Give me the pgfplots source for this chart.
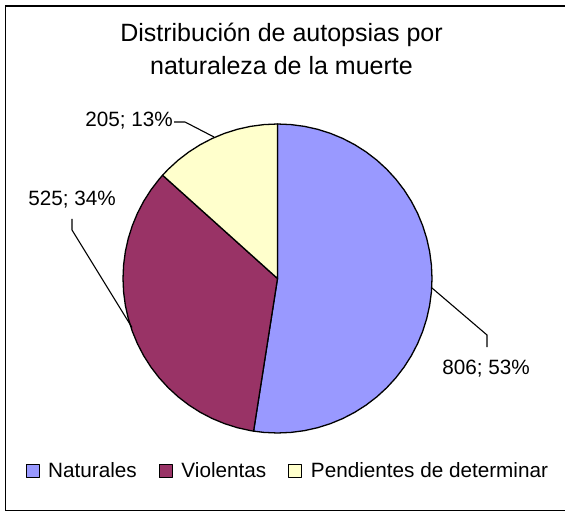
\documentclass[border=0pt]{standalone}
\usepackage{fontspec}
\setmainfont{Liberation Sans}
\usepackage{pgfplots}
\pgfplotsset{compat=1.18}
\definecolor{cNat}{HTML}{9999FF}
\definecolor{cVio}{HTML}{993366}
\definecolor{cPen}{HTML}{FFFFCC}
% Values: Naturales 806, Violentas 525, Pendientes de determinar 205 (total 1536)
% Slice angles (clockwise from 12 o'clock): 188.906, 123.047, 48.047 degrees
\begin{document}
\begin{tikzpicture}
\useasboundingbox (0,0) rectangle (565pt,512pt);
\begin{axis}[
  at={(0,0)}, anchor=south west, scale only axis,
  x=1pt, y=1pt,
  xmin=-277.5, xmax=287.5, ymin=-233.5, ymax=278.5,
  hide axis, clip=false,
  legend columns=3,
  legend style={at={(axis cs:-252,-192.5)}, anchor=west, draw=none, fill=none,
    inner sep=0pt, outer sep=0pt,
    font=\fontsize{20.7}{24}\selectfont,
    /tikz/every odd column/.append style={column sep=6.5pt},
    /tikz/every even column/.append style={column sep=20pt}},
  legend image code/.code={\draw[#1, draw=black, line width=1.2pt] (0pt,-6.5pt) rectangle (13pt,6.5pt);},
]
\addplot[data cs=polar, fill=cNat, draw=black, line width=1.3pt, line join=round] coordinates {
(0,0) (90,154.5) (85,154.5) (80,154.5) (75,154.5) (70,154.5) (65,154.5) (60,154.5) (55,154.5) (50,154.5) (45,154.5) (40,154.5) (35,154.5) (30,154.5) (25,154.5) (20,154.5) (15,154.5) (10,154.5) (5,154.5) (0,154.5) (-5,154.5) (-10,154.5) (-15,154.5) (-20,154.5) (-25,154.5) (-30,154.5) (-35,154.5) (-40,154.5) (-45,154.5) (-50,154.5) (-55,154.5) (-60,154.5) (-65,154.5) (-70,154.5) (-75,154.5) (-80,154.5) (-85,154.5) (-90,154.5) (-95,154.5) (-98.906,154.5)
} -- cycle;
\addlegendentry{Naturales}
\addplot[data cs=polar, fill=cVio, draw=black, line width=1.3pt, line join=round] coordinates {
(0,0) (-98.906,154.5) (-100,154.5) (-105,154.5) (-110,154.5) (-115,154.5) (-120,154.5) (-125,154.5) (-130,154.5) (-135,154.5) (-140,154.5) (-145,154.5) (-150,154.5) (-155,154.5) (-160,154.5) (-165,154.5) (-170,154.5) (-175,154.5) (-180,154.5) (-185,154.5) (-190,154.5) (-195,154.5) (-200,154.5) (-205,154.5) (-210,154.5) (-215,154.5) (-220,154.5) (-221.953,154.5)
} -- cycle;
\addlegendentry{Violentas}
\addplot[data cs=polar, fill=cPen, draw=black, line width=1.3pt, line join=round] coordinates {
(0,0) (-221.953,154.5) (-225,154.5) (-230,154.5) (-235,154.5) (-240,154.5) (-245,154.5) (-250,154.5) (-255,154.5) (-260,154.5) (-265,154.5) (-270,154.5)
} -- cycle;
\addlegendentry{Pendientes de determinar}
% leader lines
\addplot[forget plot, black, line width=1.1pt] coordinates {(154.5,-9.5) (209.5,-56.5) (209.5,-68.5)};
\addplot[forget plot, black, line width=1.1pt] coordinates {(-205.5,59.5) (-205.5,48.5) (-145.5,-49)};
\addplot[forget plot, black, line width=1.1pt] coordinates {(-103.5,156.5) (-92.5,156.5) (-63.5,141.5)};
% frame
\draw[black, line width=1.6pt] (axis cs:300,272.5) -- (axis cs:-272,272.5) -- (axis cs:-272,-232) -- (axis cs:300,-232);
% title
\node[anchor=base, font=\fontsize{25}{30}\selectfont, inner sep=0pt] at (axis cs:4,236.8) {Distribución de autopsias por};
\node[anchor=base, font=\fontsize{25}{30}\selectfont, inner sep=0pt] at (axis cs:4,203.5) {naturaleza de la muerte};
% data labels
\node[anchor=base, font=\fontsize{20.7}{24}\selectfont, inner sep=0pt] at (axis cs:208.5,-96) {806; 53\%};
\node[anchor=base, font=\fontsize{20.7}{24}\selectfont, inner sep=0pt] at (axis cs:-205.5,72.5) {525; 34\%};
\node[anchor=base, font=\fontsize{20.7}{24}\selectfont, inner sep=0pt] at (axis cs:-148.5,151.5) {205; 13\%};
\end{axis}
\end{tikzpicture}
\end{document}
